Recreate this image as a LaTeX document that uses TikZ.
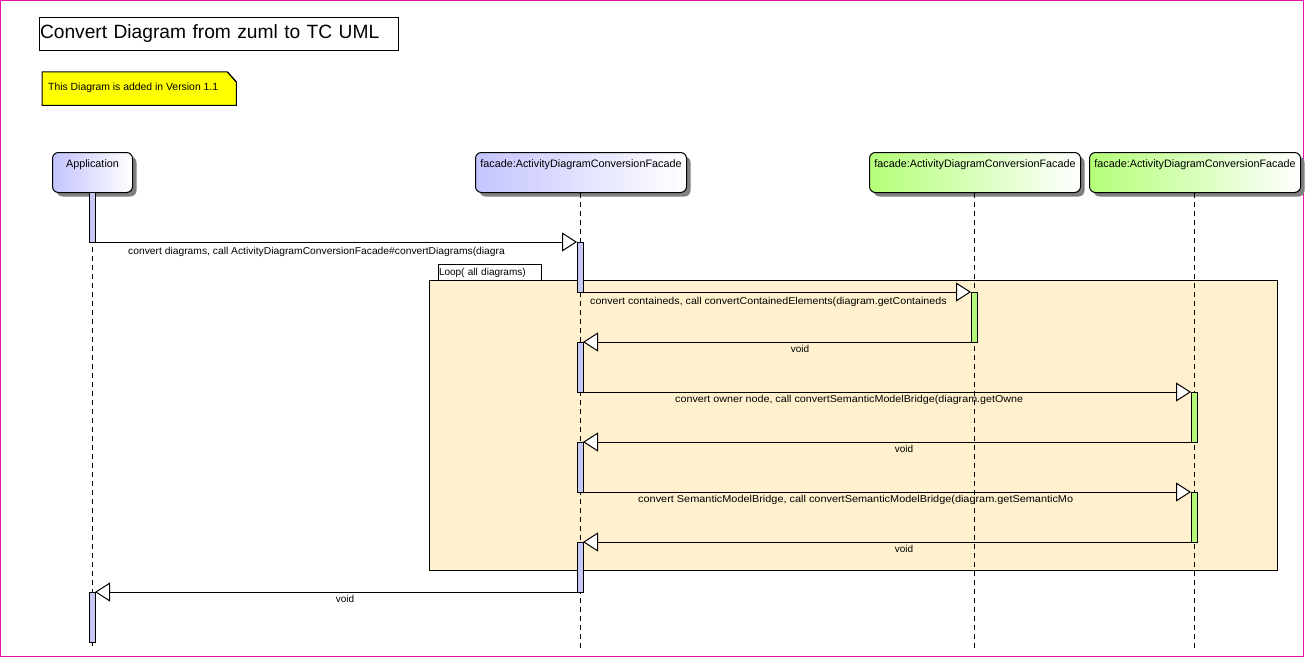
\documentclass[tikz,border=0pt]{standalone}
\usepackage{fontspec}
\setmainfont{Liberation Sans}
\usetikzlibrary{arrows.meta,shadows}
\definecolor{pagepink}{RGB}{230,20,170}
\definecolor{barblue}{RGB}{200,200,245}
\definecolor{bargreen}{RGB}{184,248,120}
\definecolor{headblue}{RGB}{196,196,255}
\definecolor{headgreen}{RGB}{180,255,120}
\definecolor{loopfill}{RGB}{255,241,206}
\definecolor{notefill}{RGB}{255,255,0}
\definecolor{shadowgray}{RGB}{128,128,128}
\newcommand{\msgtext}[2]{\scalebox{#1}[1]{#2}}
\tikzset{
  headbox/.style={draw, line width=1pt, rounded corners=6pt, minimum width=211pt, inner xsep=0pt,
    inner ysep=4.5pt, text height=10pt, text depth=21pt, anchor=north west,
    font=\fontsize{10.8}{12}\selectfont,
    drop shadow={shadow xshift=4pt, shadow yshift=-4pt, fill=shadowgray, opacity=1}},
  bluehead/.style={headbox, left color=headblue, right color=white},
  greenhead/.style={headbox, left color=headgreen, right color=white},
  actbar/.style={draw, line width=1pt, minimum width=6pt, minimum height=50pt, inner sep=0pt, outer sep=0pt, anchor=north},
  bluebar/.style={actbar, fill=barblue},
  greenbar/.style={actbar, fill=bargreen},
  lifeline/.style={line width=1pt, dash pattern=on 5pt off 4pt},
  msg/.style={line width=1pt, -{Triangle[length=15pt,width=19pt,fill=white,line width=1pt]}},
  msglabel/.style={font=\fontsize{10}{11}\selectfont, inner sep=0pt, anchor=base west},
  voidlabel/.style={font=\fontsize{10}{11}\selectfont, inner sep=0pt, anchor=base},
}
\begin{document}
\begin{tikzpicture}[x=1pt,y=-1pt]
\useasboundingbox (0,0) rectangle (1305,658);
\draw[pagepink, line width=1pt] (0.5,0.5) rectangle (1303.5,656.5);

% title
\node[draw, line width=1pt, anchor=north west, minimum width=359pt, minimum height=33pt,
      inner xsep=0.5pt, text width=358pt, align=left, font=\fontsize{19.2}{22}\selectfont]
      (title) at (39,17) {Convert Diagram from zuml to TC UML};

% note
\node[anchor=north west, minimum width=194pt, minimum height=33pt, inner sep=0pt] (note) at (42,72) {};
\draw[line width=1pt, fill=notefill] (note.north west) -- ([xshift=-9pt]note.north east)
   -- ([yshift=-10pt]note.north east) -- (note.south east) -- (note.south west) -- cycle;
\draw[line width=1pt] ([xshift=-9pt]note.north east) -- ([yshift=-10pt]note.north east);
\node[anchor=base west, inner sep=0pt, font=\fontsize{10.4}{12}\selectfont] (notetext) at (48,90.5) {This Diagram is added in Version 1.1};

% loop frame
\node[draw, line width=1pt, fill=loopfill, anchor=north west, minimum width=848pt, minimum height=290pt, inner sep=0pt, outer sep=0pt] (loop) at (429,280) {};
\node[draw, line width=1pt, fill=white, anchor=south west, minimum width=103pt, minimum height=16pt, inner xsep=1pt, inner ysep=0pt, outer sep=0pt,
      font=\fontsize{10}{11}\selectfont, text width=101pt, align=left, text height=9pt, text depth=3pt] (looplabel) at (438,280) {Loop( all diagrams)};

% heads
\node[bluehead, minimum width=80pt] (app) at (52,152) {Application};
\node[bluehead] (f1) at (475,152) {facade:ActivityDiagramConversionFacade};
\node[greenhead] (f2) at (869,152) {facade:ActivityDiagramConversionFacade};
\node[greenhead] (f3) at (1089,152) {facade:ActivityDiagramConversionFacade};

% lifeline ends
\coordinate (append) at (92,646);
\coordinate (f1end) at (580,648);
\coordinate (f2end) at (974,648);
\coordinate (f3end) at (1194,648);
\draw[lifeline] (app.south -| append) -- (append);
\draw[lifeline] (f1.south -| f1end) -- (f1end);
\draw[lifeline] (f2.south -| f2end) -- (f2end);
\draw[lifeline] (f3.south -| f3end) -- (f3end);

% activation bars
\node[bluebar] (a1) at (92,192) {};
\node[bluebar] (b1) at (580,242) {};
\node[greenbar] (c1) at (974,292) {};
\node[bluebar] (b2) at (580,342) {};
\node[greenbar] (d1) at (1194,392) {};
\node[bluebar] (b3) at (580,442) {};
\node[greenbar] (d2) at (1194,492) {};
\node[bluebar] (b4) at (580,542) {};
\node[bluebar] (a2) at (92,592) {};

% messages
\draw[msg] (a1.south east) -- (b1.north west);
\node[msglabel] (l1) at (128,254) {\msgtext{1.03}{convert diagrams, call ActivityDiagramConversionFacade\#convertDiagrams(diagra}};
\draw[msg] (b1.south east) -- (c1.north west);
\node[msglabel] (l2) at (590,304) {\msgtext{1.067}{convert containeds, call convertContainedElements(diagram.getContaineds}};
\draw[msg] (c1.south west) -- (b2.north east);
\node[voidlabel] (l3) at (800,352) {void};
\draw[msg] (b2.south east) -- (d1.north west);
\node[msglabel] (l4) at (675,402) {\msgtext{1.074}{convert owner node, call convertSemanticModelBridge(diagram.getOwne}};
\draw[msg] (d1.south west) -- (b3.north east);
\node[voidlabel] (l5) at (904,452) {void};
\draw[msg] (b3.south east) -- (d2.north west);
\node[msglabel] (l6) at (638,502) {\msgtext{1.09}{convert SemanticModelBridge, call convertSemanticModelBridge(diagram.getSemanticMo}};
\draw[msg] (d2.south west) -- (b4.north east);
\node[voidlabel] (l7) at (904,552) {void};
\draw[msg] (b4.south west) -- (a2.north east);
\node[voidlabel] (l8) at (345,602) {void};
\end{tikzpicture}
\end{document}
